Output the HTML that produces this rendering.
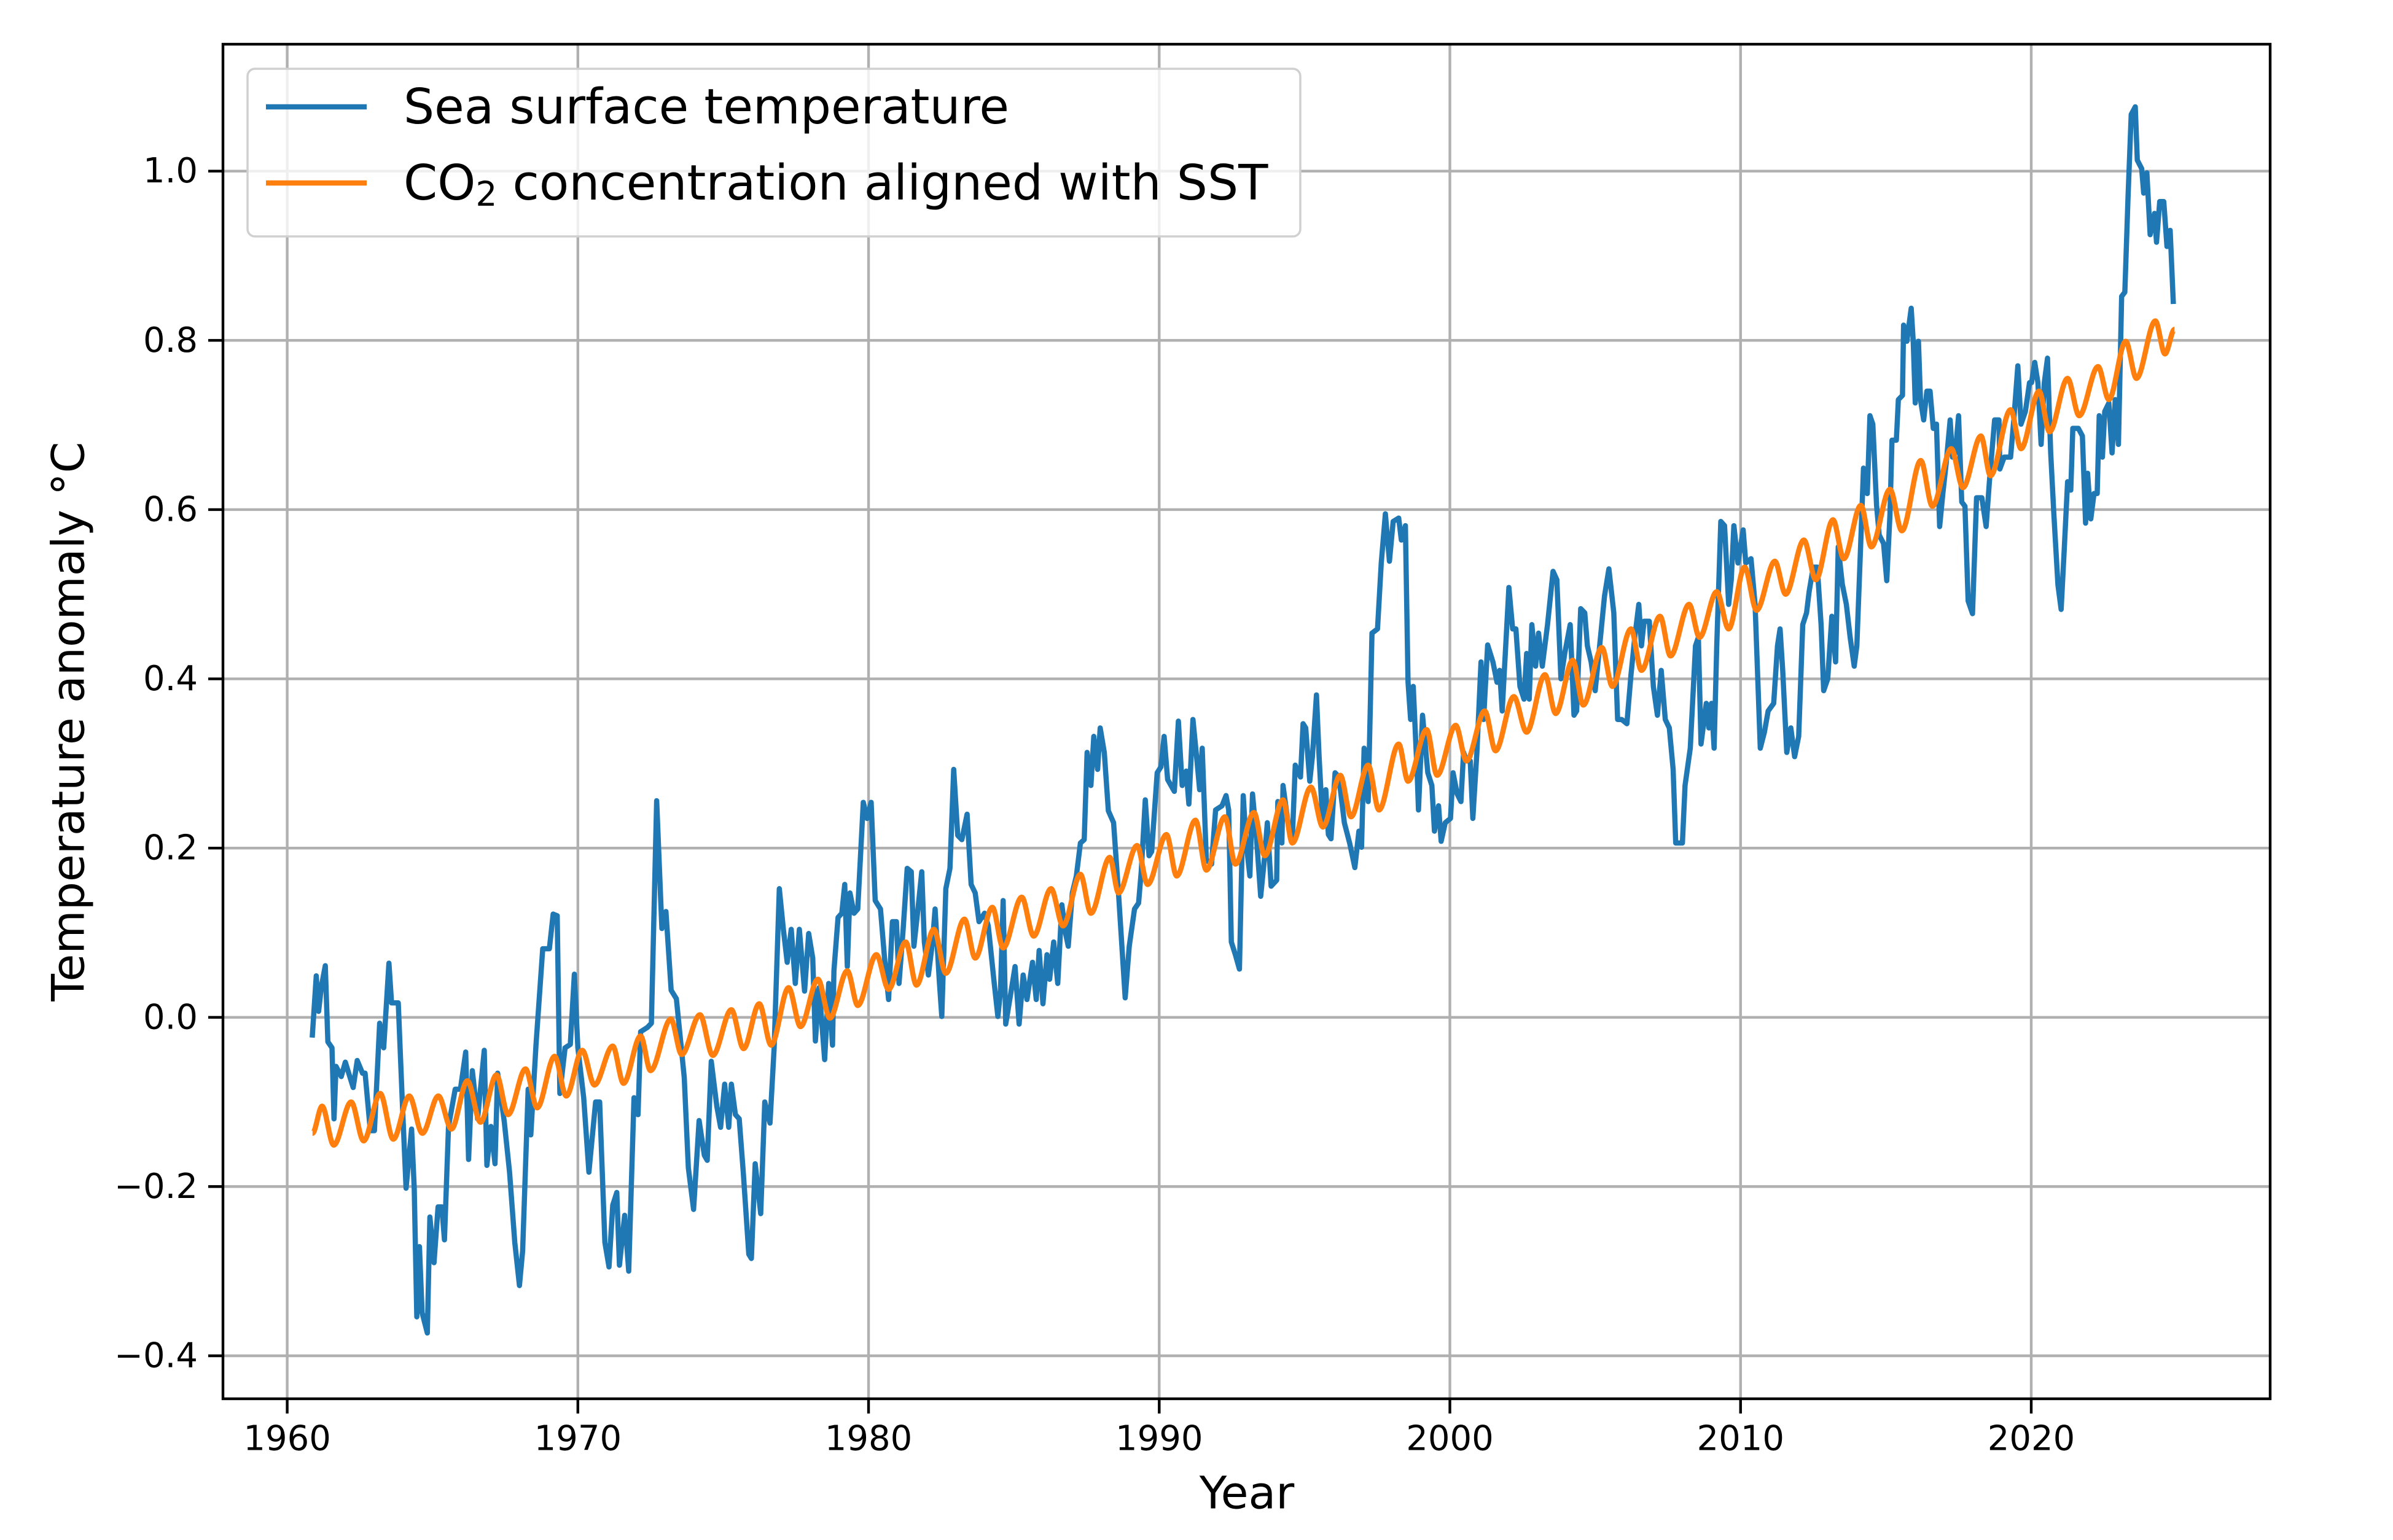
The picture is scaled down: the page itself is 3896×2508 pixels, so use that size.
<!DOCTYPE html>
<html><head><meta charset="utf-8">
<style>
html,body{margin:0;padding:0;background:#fff;}
svg{display:block;font-family:"DejaVu Sans","Liberation Sans",sans-serif;}
</style></head>
<body>
<svg id="chart" xmlns="http://www.w3.org/2000/svg" width="3896" height="2508" viewBox="0 0 3896 2508">
<rect x="0" y="0" width="3896" height="2508" fill="#fff"/>
<g id="grid"></g>
<g id="series"></g>
<g id="axes"></g>
<text x="2030" y="2432" font-size="73" text-anchor="middle" dominant-baseline="central" fill="#000">Year</text>
<text x="0" y="0" font-size="73" text-anchor="middle" dominant-baseline="central" fill="#000" transform="translate(112,1175) rotate(-90)">Temperature anomaly °C</text>
<g>
<rect x="403" y="112" width="1714" height="273" rx="12" fill="#fff" fill-opacity="0.8" stroke="#d0d0d0" stroke-width="3.5"/>
<line x1="433" y1="174" x2="597" y2="174" stroke="#1f77b4" stroke-width="8.5"/>
<text x="657" y="174" font-size="79" dominant-baseline="central" fill="#000">Sea surface temperature</text>
<line x1="433" y1="298" x2="597" y2="298" stroke="#ff7f0e" stroke-width="8.5"/>
<text x="657" y="298" font-size="79" dominant-baseline="central" fill="#000">CO<tspan font-size="55" dy="18">2</tspan><tspan dy="-18"> concentration aligned with SST</tspan></text>
</g>
</svg>
<script>
const xTicks = [1960, 1970, 1980, 1990, 2000, 2010, 2020];
const yTicks = [-0.4, -0.2, 0.0, 0.2, 0.4, 0.6, 0.8, 1.0];
const yTickLabels = ["\u22120.4", "\u22120.2", "0.0", "0.2", "0.4", "0.6", "0.8", "1.0"];

const sstYears = [1960.86,1961.0,1961.08,1961.18,1961.31,1961.4,1961.54,1961.61,1961.68,1961.86,1962.0,1962.27,1962.41,1962.59,1962.68,1962.86,1963.0,1963.18,1963.32,1963.5,1963.59,1963.82,1963.96,1964.09,1964.28,1964.37,1964.46,1964.55,1964.64,1964.82,1964.91,1965.05,1965.19,1965.32,1965.41,1965.55,1965.78,1965.96,1966.14,1966.24,1966.37,1966.55,1966.78,1966.87,1967.01,1967.15,1967.24,1967.47,1967.65,1967.83,1967.99,1968.1,1968.29,1968.38,1968.56,1968.79,1969.02,1969.15,1969.29,1969.38,1969.56,1969.74,1969.88,1970.0,1970.2,1970.38,1970.61,1970.75,1970.93,1971.07,1971.2,1971.34,1971.43,1971.61,1971.75,1971.93,1972.07,1972.16,1972.39,1972.53,1972.71,1972.89,1973.03,1973.21,1973.39,1973.66,1973.8,1973.98,1974.17,1974.35,
1974.45,1974.59,1974.78,1974.91,1975.05,1975.19,1975.28,1975.42,1975.55,1975.69,1975.88,1975.97,1976.1,1976.29,1976.43,1976.61,1976.75,1976.93,1977.07,1977.2,1977.34,1977.48,1977.62,1977.8,1977.94,1978.08,1978.17,1978.3,1978.49,1978.63,1978.76,1978.81,1978.95,1979.08,1979.18,1979.27,1979.36,1979.5,1979.63,1979.82,1979.95,1980.09,1980.23,1980.41,1980.55,1980.69,1980.82,1980.96,1981.05,1981.19,1981.33,1981.47,1981.56,1981.7,1981.83,1981.92,1982.06,1982.2,1982.29,1982.43,1982.52,1982.66,1982.8,1982.93,1983.07,1983.21,1983.39,1983.53,1983.67,1983.8,1983.99,1984.12,1984.31,1984.45,1984.54,1984.63,1984.72,1984.86,1985.04,1985.18,1985.32,1985.45,1985.64,1985.77,1985.87,1986.0,1986.14,1986.23,1986.37,1986.51,1986.65,1986.78,1986.87,1987.01,1987.15,1987.29,1987.42,1987.52,1987.65,1987.75,1987.88,1987.97,1988.11,1988.25,1988.43,1988.6,
1988.83,1988.97,1989.15,1989.29,1989.38,1989.52,1989.65,1989.74,1989.93,1990.06,1990.17,1990.29,1990.52,1990.66,1990.79,1990.93,1991.02,1991.16,1991.3,1991.39,1991.48,1991.62,1991.8,1991.94,1992.16,1992.3,1992.39,1992.48,1992.62,1992.76,1992.89,1992.99,1993.12,1993.21,1993.35,1993.49,1993.63,1993.72,1993.85,1994.04,1994.08,1994.22,1994.26,1994.45,1994.58,1994.68,1994.86,1994.95,1995.04,1995.18,1995.27,1995.41,1995.5,1995.63,1995.73,1995.82,1995.91,1996.05,1996.18,1996.37,1996.55,1996.73,1996.87,1996.96,1997.05,1997.19,1997.32,1997.51,1997.64,1997.78,1997.92,1998.05,1998.24,1998.33,1998.47,1998.56,1998.65,1998.74,1998.88,1998.92,1999.06,1999.24,1999.38,1999.47,1999.61,1999.7,1999.84,2000.02,2000.11,2000.25,2000.38,2000.47,2000.57,2000.7,2000.79,2000.93,2001.07,2001.16,2001.3,2001.48,2001.62,2001.71,2001.8,2001.89,2002.03,2002.16,
2002.27,2002.41,2002.55,2002.64,2002.73,2002.82,2002.95,2003.05,2003.18,2003.36,2003.55,2003.68,2003.82,2003.95,2004.14,2004.27,2004.36,2004.5,2004.64,2004.73,2004.86,2005.0,2005.18,2005.32,2005.47,2005.64,2005.77,2005.91,2006.09,2006.23,2006.36,2006.5,2006.59,2006.68,2006.86,2007.0,2007.14,2007.27,2007.41,2007.55,2007.68,2007.77,2008.0,2008.09,2008.27,2008.45,2008.55,2008.64,2008.82,2008.91,2009.0,2009.09,2009.18,2009.32,2009.45,2009.59,2009.68,2009.77,2009.91,2010.09,2010.18,2010.36,2010.5,2010.68,2010.82,2010.95,2011.14,2011.27,2011.36,2011.45,2011.59,2011.73,2011.86,2012.0,2012.14,2012.27,2012.36,2012.5,2012.64,2012.77,2012.86,2013.0,2013.14,2013.27,2013.36,2013.5,2013.64,2013.77,2013.91,2014.0,2014.14,2014.23,2014.36,2014.45,2014.55,2014.68,
2014.77,2014.92,2015.03,2015.14,2015.21,2015.36,2015.43,2015.57,2015.61,2015.72,2015.87,2015.94,2016.01,2016.12,2016.19,2016.3,2016.41,2016.52,2016.63,2016.74,2016.85,2016.96,2017.07,2017.21,2017.29,2017.39,2017.5,2017.61,2017.72,2017.83,2017.98,2018.12,2018.3,2018.45,2018.56,2018.74,2018.89,2018.92,2019.07,2019.18,2019.29,2019.4,2019.54,2019.65,2019.8,2019.94,2020.01,2020.12,2020.23,2020.34,2020.45,2020.56,2020.67,2020.78,2020.92,2021.03,2021.14,2021.25,2021.36,2021.43,2021.62,2021.76,2021.87,2021.94,2022.05,2022.16,2022.27,2022.34,2022.45,2022.53,2022.67,2022.78,2022.89,2023.0,2023.11,2023.22,2023.33,2023.44,2023.58,2023.65,2023.8,2023.87,2023.98,2024.09,2024.24,2024.31,2024.42,2024.56,2024.67,2024.78,2024.89];

const sstVals = [-0.024,0.049,0.007,0.037,0.061,-0.029,-0.036,-0.12,-0.058,-0.07,-0.053,-0.083,-0.051,-0.066,-0.066,-0.134,-0.134,-0.007,-0.036,0.064,0.017,0.017,-0.1,-0.202,-0.132,-0.202,-0.354,-0.271,-0.349,-0.373,-0.236,-0.29,-0.224,-0.224,-0.263,-0.129,-0.085,-0.085,-0.041,-0.168,-0.063,-0.12,-0.039,-0.175,-0.129,-0.173,-0.066,-0.124,-0.183,-0.266,-0.317,-0.276,-0.085,-0.139,-0.032,0.081,0.081,0.122,0.12,-0.09,-0.036,-0.032,0.051,-0.036,-0.095,-0.183,-0.1,-0.1,-0.266,-0.295,-0.222,-0.207,-0.293,-0.234,-0.3,-0.095,-0.115,-0.017,-0.012,-0.007,0.256,0.105,0.125,0.032,0.022,-0.071,-0.178,-0.227,-0.122,-0.163,
-0.169,-0.052,-0.105,-0.13,-0.079,-0.13,-0.079,-0.115,-0.12,-0.183,-0.28,-0.285,-0.173,-0.232,-0.1,-0.125,-0.037,0.152,0.104,0.065,0.104,0.04,0.104,0.031,0.099,0.07,-0.028,0.035,-0.05,0.04,-0.033,0.055,0.118,0.123,0.157,0.06,0.147,0.123,0.128,0.254,0.235,0.254,0.138,0.128,0.07,0.021,0.113,0.113,0.04,0.104,0.176,0.172,0.084,0.128,0.172,0.089,0.05,0.089,0.128,0.045,0.001,0.152,0.176,0.293,0.215,0.21,0.24,0.157,0.147,0.113,0.123,0.108,0.045,0.001,0.031,0.138,-0.008,0.021,0.06,-0.008,0.05,0.021,0.065,0.021,0.079,0.016,0.074,0.045,0.089,0.04,0.133,0.099,0.084,0.147,0.167,0.206,0.21,0.313,0.274,0.332,0.293,0.342,0.313,0.244,0.23,0.147,
0.023,0.084,0.128,0.135,0.172,0.257,0.191,0.196,0.289,0.296,0.332,0.281,0.267,0.35,0.274,0.291,0.252,0.352,0.303,0.269,0.318,0.186,0.181,0.245,0.25,0.262,0.245,0.089,0.074,0.057,0.262,0.206,0.167,0.264,0.211,0.143,0.191,0.23,0.155,0.162,0.255,0.206,0.274,0.225,0.211,0.298,0.284,0.347,0.342,0.279,0.308,0.381,0.308,0.225,0.269,0.216,0.211,0.289,0.284,0.23,0.206,0.177,0.22,0.201,0.318,0.255,0.454,0.459,0.537,0.595,0.539,0.586,0.59,0.564,0.581,0.396,0.352,0.391,0.284,0.245,0.357,0.289,0.274,0.22,0.25,0.208,0.23,0.235,0.289,0.264,0.255,0.313,0.303,0.303,0.235,0.313,0.42,0.352,0.44,0.42,0.396,0.41,0.362,0.42,0.508,0.459,
0.459,0.391,0.376,0.43,0.376,0.464,0.415,0.454,0.415,0.464,0.527,0.517,0.4,0.43,0.464,0.357,0.362,0.483,0.478,0.439,0.42,0.386,0.449,0.498,0.53,0.478,0.352,0.352,0.347,0.405,0.449,0.488,0.439,0.468,0.468,0.391,0.357,0.41,0.352,0.342,0.293,0.206,0.206,0.274,0.318,0.439,0.449,0.323,0.371,0.342,0.371,0.318,0.439,0.586,0.581,0.488,0.517,0.581,0.537,0.576,0.537,0.542,0.488,0.318,0.337,0.362,0.371,0.439,0.459,0.41,0.313,0.342,0.308,0.332,0.464,0.478,0.503,0.532,0.532,0.464,0.386,0.4,0.474,0.42,0.556,0.512,0.488,0.449,0.415,0.439,0.566,0.649,0.619,0.711,0.701,0.605,
0.57,0.56,0.516,0.594,0.682,0.682,0.73,0.735,0.818,0.799,0.838,0.799,0.726,0.799,0.73,0.706,0.74,0.74,0.696,0.701,0.58,0.619,0.653,0.706,0.662,0.667,0.711,0.609,0.604,0.492,0.477,0.614,0.614,0.58,0.633,0.706,0.706,0.648,0.662,0.662,0.662,0.706,0.77,0.701,0.716,0.75,0.75,0.774,0.75,0.677,0.75,0.779,0.667,0.594,0.511,0.482,0.555,0.633,0.623,0.696,0.696,0.687,0.584,0.643,0.589,0.619,0.619,0.711,0.662,0.716,0.726,0.667,0.73,0.677,0.852,0.857,0.969,1.067,1.076,1.013,1.003,0.974,0.998,0.925,0.95,0.916,0.964,0.964,0.911,0.93,0.843];

const co2Years = [1960.87,1961.2,1961.6,1962.2,1962.63,1963.2,1963.65,1964.2,1964.65,1965.2,1965.65,1966.2,1966.65,1967.2,1967.6,1968.2,1968.6,1969.2,1969.6,1970.15,1970.57,1971.2,1971.57,1972.16,1972.5,1973.2,1973.57,1974.2,1974.64,1975.28,1975.7,1976.24,1976.65,1977.25,1977.66,1978.26,1978.67,1979.27,1979.63,1980.27,1980.69,1981.28,1981.65,1982.25,1982.66,1983.3,1983.67,1984.26,1984.63,1985.27,1985.68,1986.28,1986.69,1987.29,1987.65,1988.3,1988.6,1989.24,1989.6,1990.25,1990.6,1991.25,1991.62,1992.26,1992.62,1993.26,1993.63,1994.26,1994.58,1995.22,1995.63,1996.23,1996.6,1997.19,1997.56,1998.24,1998.56,1999.2,1999.56,2000.2,2000.57,2001.2,2001.57,2002.2,2002.64,2003.27,2003.64,2004.23,2004.59,2005.23,2005.59,2006.23,2006.59,2007.23,2007.59,2008.23,2008.59,2009.18,2009.59,2010.14,2010.55,2011.18,2011.55,2012.18,2012.59,2013.18,2013.55,2014.14,2014.5,2015.14,2015.55,2016.2,2016.6,2017.25,2017.65,2018.27,2018.6,2019.29,2019.65,2020.27,2020.63,2021.25,2021.65,2022.3,2022.67,2023.25,2023.62,2024.27,2024.6,2024.93];

const co2Vals = [-0.137,-0.105,-0.151,-0.1,-0.146,-0.09,-0.144,-0.093,-0.137,-0.093,-0.132,-0.075,-0.124,-0.068,-0.115,-0.061,-0.107,-0.046,-0.093,-0.039,-0.08,-0.034,-0.078,-0.022,-0.063,-0.002,-0.044,0.003,-0.045,0.009,-0.037,0.016,-0.033,0.035,-0.011,0.045,-0.001,0.055,0.014,0.074,0.033,0.089,0.038,0.104,0.052,0.116,0.07,0.13,0.082,0.142,0.096,0.152,0.108,0.169,0.123,0.189,0.147,0.203,0.157,0.216,0.167,0.233,0.174,0.237,0.181,0.242,0.191,0.257,0.206,0.272,0.225,0.286,0.237,0.298,0.245,0.323,0.279,0.34,0.286,0.345,0.303,0.362,0.315,0.379,0.337,0.405,0.359,0.422,0.369,0.437,0.391,0.459,0.41,0.474,0.427,0.488,0.449,0.503,0.459,0.532,0.481,0.539,0.5,0.564,0.517,0.588,0.542,0.605,0.556,0.624,0.575,0.658,0.604,0.672,0.626,0.687,0.64,0.718,0.672,0.74,0.692,0.755,0.711,0.769,0.73,0.799,0.755,0.823,0.784,0.813];

const NS = "http://www.w3.org/2000/svg";
const PL = 363, PR = 3696, PT = 72, PB = 2278;
const X0 = 1957.79, X1 = 2028.22, Y0 = -0.4508, Y1 = 1.150;
function xs(v){ return PL + (v - X0) / (X1 - X0) * (PR - PL); }
function ys(v){ return PB - (v - Y0) / (Y1 - Y0) * (PB - PT); }
function mk(tag, attrs, parent){
  const e = document.createElementNS(NS, tag);
  for (const k in attrs) e.setAttribute(k, attrs[k]);
  parent.appendChild(e);
  return e;
}
const grid = document.getElementById('grid');
const axes = document.getElementById('axes');
const series = document.getElementById('series');

xTicks.forEach(function(t){
  const gl = mk('line', {x1: xs(t), x2: xs(t), y1: PT, y2: PB, stroke: '#b0b0b0', 'stroke-width': 4.4}, grid);
  
  
  const tk = mk('line', {x1: xs(t), x2: xs(t), y1: PB, y2: PB + 24, stroke: '#000', 'stroke-width': 4.4}, axes);
  
  
  const tx = mk('text', {x: xs(t), y: 2343, 'font-size': 56, 'text-anchor': 'middle', 'dominant-baseline': 'central', fill: '#000'}, axes);
  tx.textContent = String(t);
  
  
});
yTicks.forEach(function(t, i){
  const gl = mk('line', {x1: PL, x2: PR, y1: ys(t), y2: ys(t), stroke: '#b0b0b0', 'stroke-width': 4.4}, grid);
  
  
  const tk = mk('line', {x1: PL - 24, x2: PL, y1: ys(t), y2: ys(t), stroke: '#000', 'stroke-width': 4.4}, axes);
  
  
  const tx = mk('text', {x: 322, y: ys(t), 'font-size': 56, 'text-anchor': 'end', 'dominant-baseline': 'central', fill: '#000'}, axes);
  tx.textContent = yTickLabels[i];
  
  
});
const frame = mk('rect', {x: PL, y: PT, width: PR - PL, height: PB - PT, fill: 'none', stroke: '#000', 'stroke-width': 4.4}, axes);



// SST line
let d = '';
for (let i = 0; i < sstYears.length; i++) {
  d += (i ? 'L' : 'M') + xs(sstYears[i]).toFixed(1) + ',' + ys(sstVals[i]).toFixed(1);
}
const sst = mk('path', {d: d, fill: 'none', stroke: '#1f77b4', 'stroke-width': 8.5, 'stroke-linejoin': 'round'}, series);



// CO2 line (smooth through peaks/troughs)
const px = co2Years.map(xs), py = co2Vals.map(ys);
let d2 = 'M' + px[0].toFixed(1) + ',' + py[0].toFixed(1);
for (let i = 0; i < px.length - 1; i++) {
  const dx = (px[i+1] - px[i]) / 3;
  d2 += 'C' + (px[i] + dx).toFixed(1) + ',' + py[i].toFixed(1) + ' ' + (px[i+1] - dx).toFixed(1) + ',' + py[i+1].toFixed(1) + ' ' + px[i+1].toFixed(1) + ',' + py[i+1].toFixed(1);
}
const co2 = mk('path', {d: d2, fill: 'none', stroke: '#ff7f0e', 'stroke-width': 8.5, 'stroke-linejoin': 'round'}, series);


</script>
</body></html>
